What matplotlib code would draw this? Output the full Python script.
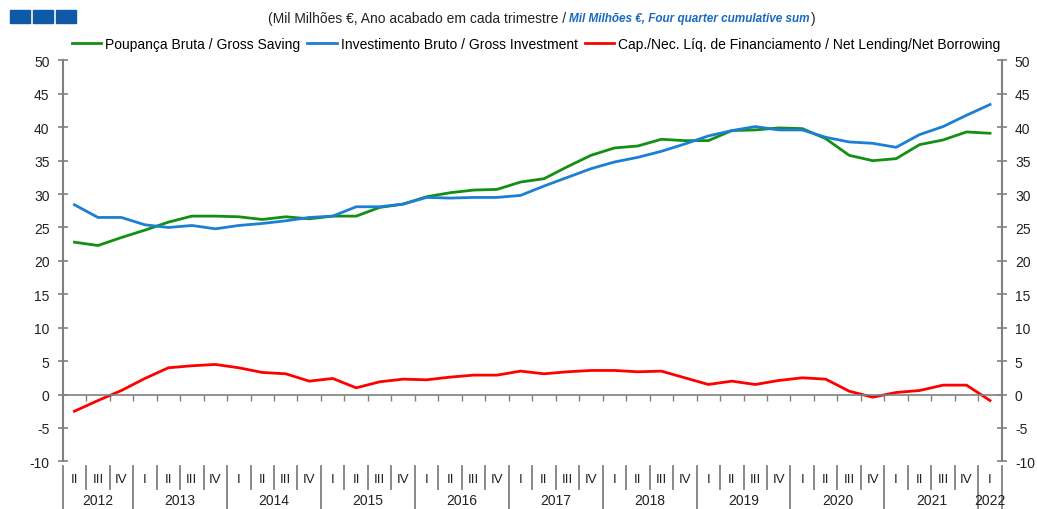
import numpy as np
import matplotlib.pyplot as plt
from matplotlib.patches import Rectangle
from matplotlib.transforms import blended_transform_factory

plt.rcParams['font.family'] = ['Liberation Sans', 'DejaVu Sans']
plt.rcParams['axes.unicode_minus'] = False

# quarters 2012 Q2 .. 2022 Q1
quarters = ['II', 'III', 'IV'] + ['I', 'II', 'III', 'IV'] * 9 + ['I']
years = [2012] * 3 + [y for y in range(2013, 2022) for _ in range(4)] + [2022]

gross_saving = [22.8, 22.3, 23.5, 24.6, 25.8, 26.7, 26.7, 26.6, 26.2, 26.6,
                26.3, 26.7, 26.7, 28.0, 28.5, 29.6, 30.2, 30.6, 30.7, 31.8,
                32.3, 34.1, 35.8, 36.9, 37.2, 38.2, 38.0, 38.0, 39.5, 39.6,
                39.9, 39.8, 38.3, 35.8, 35.0, 35.3, 37.4, 38.1, 39.3, 39.1]
gross_investment = [28.4, 26.5, 26.5, 25.4, 25.0, 25.3, 24.8, 25.3, 25.6, 26.0,
                    26.5, 26.7, 28.1, 28.1, 28.5, 29.5, 29.4, 29.5, 29.5, 29.8,
                    31.2, 32.5, 33.8, 34.8, 35.5, 36.4, 37.5, 38.7, 39.5, 40.1,
                    39.6, 39.6, 38.5, 37.8, 37.6, 37.0, 38.9, 40.1, 41.8, 43.4]
net_lending = [-2.5, -0.9, 0.6, 2.4, 4.0, 4.3, 4.5, 4.0, 3.3, 3.1,
               2.0, 2.4, 1.0, 1.9, 2.3, 2.2, 2.6, 2.9, 2.9, 3.5,
               3.1, 3.4, 3.6, 3.6, 3.4, 3.5, 2.5, 1.5, 2.0, 1.5,
               2.1, 2.5, 2.3, 0.5, -0.4, 0.3, 0.6, 1.4, 1.4, -0.9]

grey = '#808080'

fig = plt.figure(figsize=(10.37, 5.10), dpi=100)
ax = fig.add_axes([0.0605, 0.0935, 0.9055, 0.786])

x = np.arange(len(quarters))
ax.plot(x, gross_saving, color='#138f13', lw=2.0, label='Poupança Bruta / Gross Saving')
ax.plot(x, gross_investment, color='#1c7fd4', lw=2.0, label='Investimento Bruto / Gross Investment')
ax.plot(x, net_lending, color='#ff0000', lw=2.0,
        label='Cap./Nec. Líq. de Financiamento / Net Lending/Net Borrowing')

ax.set_xlim(-0.5, len(x) - 0.5)
ax.set_ylim(-10, 50)
ax.set_yticks(range(-10, 51, 5))
ax.tick_params(axis='y', left=True, right=True, labelleft=True, labelright=True,
               direction='inout', length=7, width=1.2, color=grey,
               labelsize=10, pad=6, labelcolor='#222222')

for s in ['left', 'right']:
    ax.spines[s].set_color(grey)
    ax.spines[s].set_linewidth(1.5)
ax.spines['top'].set_visible(False)
ax.spines['bottom'].set_position(('data', 0))
ax.spines['bottom'].set_color(grey)
ax.spines['bottom'].set_linewidth(1.2)

# small ticks at quarter boundaries on the zero line
ax.set_xticks(x[:-1] + 0.5)
ax.tick_params(axis='x', direction='out', length=4, width=1.0, color=grey,
               labelbottom=False)

# quarter / year labels below the plot
trans = blended_transform_factory(ax.transData, ax.transAxes)
for k, q in enumerate(quarters):
    ax.text(k, -0.044, q, transform=trans, ha='center', va='center',
            fontsize=9.5, color='#222222')

for k in range(len(x) + 1):
    b = k - 0.5
    if k == 0 or k == len(x) or years[k] != years[k - 1]:
        y0 = -0.119
    else:
        y0 = -0.069
    ax.plot([b, b], [-0.012, y0], transform=trans, color=grey, lw=1.3,
            clip_on=False)

for yr in sorted(set(years)):
    ks = [k for k, v in enumerate(years) if v == yr]
    ax.text(np.mean(ks), -0.097, str(yr), transform=trans, ha='center',
            va='center', fontsize=10, color='#222222')

# header
for x0 in [10, 33, 56]:
    fig.patches.append(Rectangle((x0 / 1037, 1 - 23.5 / 510), 19.5 / 1037, 12.5 / 510,
                                 transform=fig.transFigure, color='#0f5aa6'))

t1 = fig.text(566 / 1037, 1 - 19 / 510,
              '(Mil Milhões €, Ano acabado em cada trimestre /',
              ha='right', va='center', fontsize=10, color='#222222')
t2 = fig.text(569 / 1037, 1 - 19 / 510,
              'Mil Milhões €, Four quarter cumulative sum',
              ha='left', va='center', fontsize=8.5, style='italic',
              weight='bold', color='#1a6bbf')
fig.canvas.draw()
bb = t2.get_window_extent()
fig.text(bb.x1 / fig.bbox.width + 0.001, 1 - 19 / 510, ')', ha='left',
         va='center', fontsize=10, color='#222222')

fig.legend(loc='center', bbox_to_anchor=(0.517, 0.912), ncol=3, frameon=False,
           fontsize=10, handlelength=2.1, handletextpad=0.3, columnspacing=0.5,
           borderaxespad=0)

fig.savefig('out.png', dpi=100)
